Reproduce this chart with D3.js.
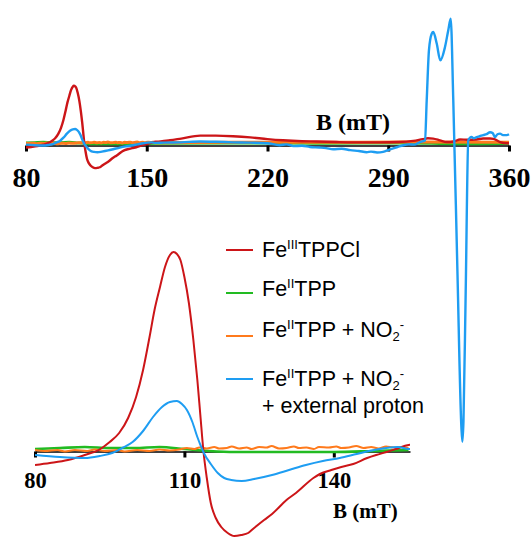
<!DOCTYPE html>
<html>
<head>
<meta charset="utf-8">
<script src="https://cdn.jsdelivr.net/npm/d3@7"></script>
<style>
  body { margin: 0; background: #fff; }
  svg { display: block; }
</style>
</head>
<body>
<script>
// EPR spectra, field B in mT, intensity in arbitrary units
const feIIITPPCl = [[80,-15],[83,-13],[86.6,-10],[90,-5],[92.8,0],[95,8],[96.9,17],[98.7,32],[100.3,53],[101.7,80],[103,113],[104,140],[105.1,163],[106.1,183],[107.1,195],[107.8,198],[108.5,196],[109.2,190],[110,173],[110.9,147],[111.8,110],[112.6,70],[113.2,35],[113.8,0],[114.5,-28],[115.3,-53],[116.3,-68],[117.4,-77],[118.7,-83],[120,-86],[121.4,-85],[122.8,-83],[124,-78],[126,-70],[127.6,-64],[130.5,-50],[132.4,-43],[135.9,-28],[137.2,-24],[139.5,-20],[141.5,-17],[143.9,-14],[146.7,-8],[148.5,-5],[150.6,-2],[152.5,1],[155,5],[158,6],[163.5,10],[170,16],[181,26],[190,26],[200,24],[210,20],[220,14],[229,10],[240,7],[248.5,6],[260,4],[270,3],[285,3],[295.8,4],[304.5,8],[310,14],[313,17],[316,16],[320,10],[323.9,4],[328,6],[331.6,13],[336,12],[341.3,13],[345,16],[349,16],[351,15],[354.8,4],[358.7,0],[360,0]];

const feIITPP = [[80,1],[85,2],[90,3],[95,2],[100,2],[105,3],[110,1],[115,-1],[120,-2],[130,-2],[140,-2],[148,-1],[155,0],[200,1],[250,0],[300,1],[330,-2],[360,0]];

const feIITPPNO2 = [[80,0],[82,-1],[84.5,0],[86,-1.5],[88,0],[90.5,-1],[92,0.5],[94,-1],[96.5,0],[98,-1.5],[100.5,0],[103,-1],[105,0.5],[107,-0.5],[109,0.5],[110.5,2],[112,1],[113,2.5],[114.5,1.5],[116,3],[117,1.5],[118.5,2],[119.5,3.5],[121,1.5],[122.5,2.5],[123.5,1],[125,3],[126.5,2.5],[127.5,4],[129,1.5],[130.5,2],[132,3.5],[133,2],[134.5,2.5],[136,1],[137,3],[139,2.5],[140.5,3.5],[141.5,2],[143,2.5],[144.5,4],[146,2],[147.5,3],[149,1.5],[150.5,3.5],[152,2.5],[153.5,3],[155,2],[200,3],[250,3],[300,4],[360,3]];

const feIITPPNO2H = [[80,-5],[85,-7],[90,-8],[93,-6],[95.5,-3],[97.5,2],[99.6,8],[101.7,19],[103.7,33],[105.5,43],[107.1,48],[108.5,49],[109.5,46],[110.5,40],[111.6,28],[112.6,13],[113.3,4],[113.9,-3],[115.3,-14],[116.7,-23],[118,-28],[119.4,-30],[121.5,-31],[124,-29],[127.6,-25],[131,-20],[134.4,-15],[137.8,-11],[141.2,-8],[144.6,-4],[148.1,0],[150.5,2],[152.9,3],[155,1],[160,2],[170,3],[181,6],[190,5],[200,3],[210,2],[220,0],[227,-7],[231,-4],[235,-10],[240,-9],[244.6,-13],[250,-15],[254,-17],[258,-21],[263,-19],[268,-24],[273,-27],[277.5,-31],[280,-29],[283.5,-32],[287,-30],[291,-21],[295,-14],[298.7,-7],[302,-4],[305,-5],[308.4,4],[310.3,7],[311.3,10],[312.3,148],[313.6,321],[315.2,378],[316.1,384],[318.1,344],[320.2,286],[322.9,332],[324.8,390],[326.2,430],[327.7,148],[330.1,-442],[332.4,-980],[333,-1030],[333.6,-960],[334.9,-511],[336.4,10],[338.3,22],[339.5,17],[341.3,21],[343,24],[345.1,28],[347,31],[349,38],[350.5,35],[351.9,21],[353.3,31],[354.8,33],[356.5,28],[358.7,28],[360,31]];

const topTicks = [80, 150, 220, 290, 360];
const bottomTicks = [80, 110, 140];
const axisTitle = "B (mT)";

// legend text, pieces: [text, "" | "sup" | "sub"]
const legendLabels = [
  [["Fe", ""], ["III", "sup"], ["TPPCl", ""]],
  [["Fe", ""], ["II", "sup"], ["TPP", ""]],
  [["Fe", ""], ["II", "sup"], ["TPP + NO", ""], ["2", "sub"], ["-", "sup"]],
  [["Fe", ""], ["II", "sup"], ["TPP + NO", ""], ["2", "sub"], ["-", "sup"]]
];
const legendExtra = "+ external proton";

const series = [
  { data: feIITPP, color: "#22bb22" },
  { data: feIITPPNO2, color: "#ff7a1c" },
  { data: feIIITPPCl, color: "#cc1518" },
  { data: feIITPPNO2H, color: "#1e9df2" }
];
const legendOrder = [2, 0, 1, 3];

const width = 531, height = 537;
const svg = d3.select("body").append("svg")
  .attr("width", width)
  .attr("height", height);

const xTop = d3.scaleLinear().domain([80, 360]).range([26, 509]);
const yTop = d3.scaleLinear().domain([-1030, 431]).range([441.7, 18.3]);
const xBot = d3.scaleLinear().domain([80, 155.3]).range([35, 410]);
const yBot = d3.scaleLinear().domain([-87, 198]).range([537, 252]);

const serif = "'Liberation Serif', 'Times New Roman', serif";
const sans = "'Liberation Sans', Arial, sans-serif";

function drawAxis(x, ticks, yPos, fontSize, labelY) {
  const g = svg.append("g")
    .attr("transform", `translate(0,${yPos})`)
    .call(d3.axisBottom(x).tickValues(ticks).tickSize(6).tickSizeOuter(0).tickFormat(d3.format("d")));
  g.select(".domain").attr("stroke", "#000").attr("stroke-width", 1.5);
  g.selectAll(".tick line").attr("stroke", "#000").attr("stroke-width", 3);
  g.selectAll(".tick text")
    .attr("y", labelY)
    .attr("dy", null)
    .attr("fill", "#000")
    .attr("font-family", serif)
    .attr("font-weight", "bold")
    .attr("font-size", fontSize);
}

drawAxis(xTop, topTicks, 145.5, 28, 41);
drawAxis(xBot, bottomTicks, 451.5, 22.5, 36.5);

svg.append("text")
  .attr("x", 316).attr("y", 130)
  .attr("font-family", serif).attr("font-weight", "bold").attr("font-size", 24)
  .text(axisTitle);
svg.append("text")
  .attr("x", 333).attr("y", 518)
  .attr("font-family", serif).attr("font-weight", "bold").attr("font-size", 21)
  .text(axisTitle);

// top panel: full sweep
const lineTop = d3.line().x(d => xTop(d[0])).y(d => yTop(d[1])).curve(d3.curveMonotoneX);
svg.append("g")
  .attr("fill", "none")
  .selectAll("path")
  .data(series)
  .join("path")
    .attr("d", d => lineTop(d.data))
    .attr("stroke", d => d.color)
    .attr("stroke-width", (d, i) => i < 2 ? 3 : 2.4)
    .attr("stroke-linejoin", "round");

// bottom panel: zoom on the low-field signal
svg.append("clipPath").attr("id", "clipBot")
  .append("rect").attr("x", 35).attr("y", 0).attr("width", 375).attr("height", height);

const lineBot = d3.line().x(d => xBot(d[0])).y(d => yBot(d[1])).curve(d3.curveMonotoneX);
svg.append("g")
  .attr("fill", "none")
  .attr("clip-path", "url(#clipBot)")
  .selectAll("path")
  .data(series)
  .join("path")
    .attr("d", d => lineBot(d.data.filter(p => p[0] <= 160)))
    .attr("stroke", d => d.color)
    .attr("stroke-width", (d, i) => i === 0 ? 2.6 : 2)
    .attr("stroke-linejoin", "round");

// legend
const lineY = [250, 293, 336, 379];
const textY = [257, 296, 337, 386];
const legend = svg.append("g").attr("font-family", sans).attr("font-size", 21.5).attr("fill", "#000");

legendLabels.forEach((parts, i) => {
  const s = series[legendOrder[i]];
  legend.append("line")
    .attr("x1", 226).attr("x2", 253)
    .attr("y1", lineY[i]).attr("y2", lineY[i])
    .attr("stroke", s.color).attr("stroke-width", 2);
  const t = legend.append("text").attr("x", 262).attr("y", textY[i]);
  let shift = 0;
  parts.forEach(([txt, kind]) => {
    const target = kind === "sup" ? -8 : kind === "sub" ? 3.5 : 0;
    const ts = t.append("tspan").attr("dy", target - shift).text(txt);
    if (kind) ts.attr("font-size", 13);
    shift = target;
  });
});
legend.append("text").attr("x", 262).attr("y", 413).text(legendExtra);
</script>
</body>
</html>
